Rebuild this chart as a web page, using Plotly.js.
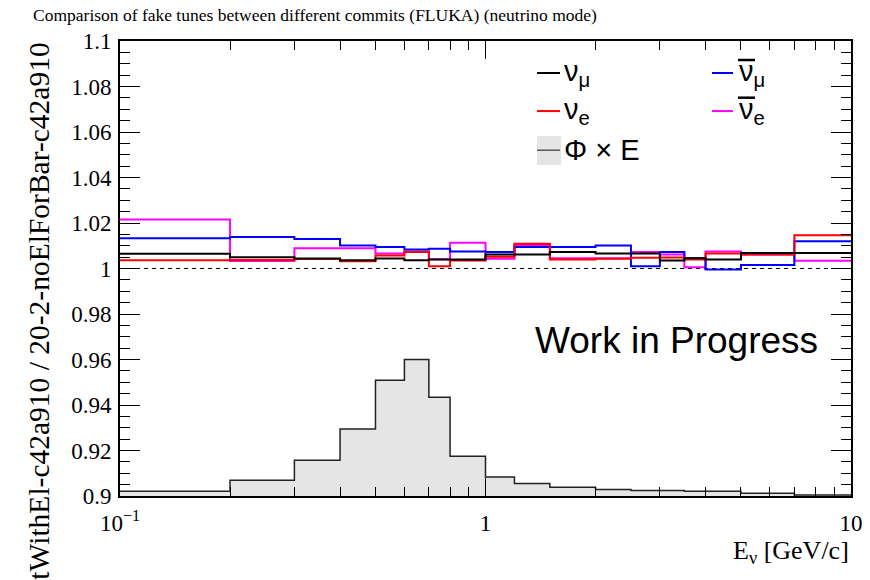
<!DOCTYPE html>
<html>
<head>
<meta charset="utf-8">
<script src="https://cdn.plot.ly/plotly-3.0.1.min.js"></script>
<style>html,body{margin:0;padding:0;background:#fff;}#chart{width:870px;height:580px;}</style>
</head>
<body>
<div id="chart"></div>
<script>
// Bin edges in E_nu [GeV/c]
const binEdges = [0.1,0.2,0.3,0.4,0.5,0.6,0.7,0.8,1.0,1.2,1.5,2.0,2.5,3.0,3.5,4.0,5.0,7.0,10.0];
// Ratio per bin
const numuRatio    = [1.0065,1.0050,1.0044,1.0036,1.0044,1.0036,1.0040,1.0040,1.0062,1.0062,1.0072,1.0066,1.0066,1.0035,1.0045,1.0040,1.0068,1.0068];
const nueRatio     = [1.0036,1.0037,1.0042,1.0032,1.0057,1.0073,1.0010,1.0035,1.0052,1.0109,1.0040,1.0043,1.0047,1.0048,1.0040,1.0066,1.0062,1.0146];
const numubarRatio = [1.0133,1.0139,1.0130,1.0101,1.0094,1.0084,1.0087,1.0075,1.0073,1.0094,1.0094,1.0101,1.0010,1.0073,1.0045,0.9996,1.0015,1.0120];
const nuebarRatio  = [1.0215,1.0033,1.0089,1.0089,1.0066,1.0075,1.0041,1.0113,1.0043,1.0103,1.0045,1.0045,1.0073,1.0062,1.0006,1.0075,1.0062,1.0034];
// Flux x E shape (drawn in the same y units)
const fluxShape    = [0.9021,0.9069,0.9157,0.9294,0.9509,0.9600,0.9434,0.9175,0.9083,0.9055,0.9039,0.9029,0.9024,0.9024,0.9021,0.9021,0.9012,0.9004];
const unityLine = 1.0;
const yMin = 0.9, yMax = 1.1;
const xTickVals = [0.1, 1, 10];
const xTickText = ['10<sup>\u22121</sup>', '1', '10'];
const xMinorVals = [0.2,0.3,0.4,0.5,0.6,0.7,0.8,0.9,2,3,4,5,6,7,8,9];

function stepY(vals){ return vals.concat([vals[vals.length-1]]); }

const serif = "'Liberation Serif', serif";
const sans = "'Liberation Sans', sans-serif";

const traces = [
  {x: binEdges, y: stepY(fluxShape), type:'scatter', mode:'lines', line:{shape:'hv', color:'#222222', width:1.5}, fill:'tozeroy', fillcolor:'#e5e5e5', hoverinfo:'skip', showlegend:false},
  {x: [binEdges[0], binEdges[binEdges.length-1]], y:[unityLine, unityLine], type:'scatter', mode:'lines', line:{color:'#000', width:1, dash:'4px,4px'}, showlegend:false},
  {x: binEdges, y: stepY(nuebarRatio), type:'scatter', mode:'lines', line:{shape:'hv', color:'#ff00ff', width:2}, showlegend:false},
  {x: binEdges, y: stepY(numubarRatio), type:'scatter', mode:'lines', line:{shape:'hv', color:'#0000ff', width:2}, showlegend:false},
  {x: binEdges, y: stepY(nueRatio), type:'scatter', mode:'lines', line:{shape:'hv', color:'#ff0000', width:2}, showlegend:false},
  {x: binEdges, y: stepY(numuRatio), type:'scatter', mode:'lines', line:{shape:'hv', color:'#000000', width:2}, showlegend:false}
];

// legend geometry helpers (paper coords)
const L = {x0:0.5705, x1:0.6019, bx0:0.8098, bx1:0.8386, tx:0.6047, btx:0.8440, r1:0.9297, r2:0.846, r3:0.760,
           ob0:0.8454, ob1:0.8687, o1:0.9582, o2:0.8754};

const shapes = [
  {type:'line', xref:'paper', yref:'paper', x0:L.x0, x1:L.x1, y0:L.r1, y1:L.r1, line:{color:'#000', width:2}},
  {type:'line', xref:'paper', yref:'paper', x0:L.bx0, x1:L.bx1, y0:L.r1, y1:L.r1, line:{color:'#0000ff', width:2}},
  {type:'line', xref:'paper', yref:'paper', x0:L.x0, x1:L.x1, y0:L.r2, y1:L.r2, line:{color:'#ff0000', width:2}},
  {type:'line', xref:'paper', yref:'paper', x0:L.bx0, x1:L.bx1, y0:L.r2, y1:L.r2, line:{color:'#ff00ff', width:2}},
  {type:'line', xref:'paper', yref:'paper', x0:L.ob0, x1:L.ob1, y0:L.o1, y1:L.o1, line:{color:'#000', width:2.5}},
  {type:'line', xref:'paper', yref:'paper', x0:L.ob0, x1:L.ob1, y0:L.o2, y1:L.o2, line:{color:'#000', width:2.5}},
  {type:'rect', xref:'paper', yref:'paper', x0:L.x0, x1:L.x1+0.0015, y0:0.7275, y1:0.7912, fillcolor:'#e5e5e5', line:{width:0}},
  {type:'line', xref:'paper', yref:'paper', x0:L.x0, x1:L.x1, y0:L.r3, y1:L.r3, line:{color:'#333', width:1.2}}
];

const annotations = [
  {xref:'paper', yref:'paper', x:L.tx, y:L.r1, xanchor:'left', yanchor:'middle', showarrow:false, text:'\u03bd<sub>\u03bc</sub>', font:{family:sans, size:29, color:'#000'}},
  {xref:'paper', yref:'paper', x:L.btx, y:L.r1, xanchor:'left', yanchor:'middle', showarrow:false, text:'\u03bd<sub>\u03bc</sub>', font:{family:sans, size:29, color:'#000'}},
  {xref:'paper', yref:'paper', x:L.tx, y:L.r2, xanchor:'left', yanchor:'middle', showarrow:false, text:'\u03bd<sub>e</sub>', font:{family:sans, size:29, color:'#000'}},
  {xref:'paper', yref:'paper', x:L.btx, y:L.r2, xanchor:'left', yanchor:'middle', showarrow:false, text:'\u03bd<sub>e</sub>', font:{family:sans, size:29, color:'#000'}},
  {xref:'paper', yref:'paper', x:L.tx, y:L.r3, xanchor:'left', yanchor:'middle', showarrow:false, text:'\u03a6 \u00d7 E', font:{family:sans, size:29, color:'#000'}},
  {xref:'paper', yref:'paper', x:0.565, y:0.3407, xanchor:'left', yanchor:'middle', showarrow:false, text:'Work in Progress', font:{family:sans, size:37, color:'#000'}},
  {xref:'paper', yref:'paper', x:1.0, y:-0.124, xanchor:'right', yanchor:'middle', showarrow:false, text:'E<sub>\u03bd</sub> [GeV/c]', font:{family:serif, size:26, color:'#000'}},
  {xref:'paper', yref:'paper', x:-0.112, y:1.0, xanchor:'center', yanchor:'top', textangle:-90, showarrow:false, text:'tWithEl-c42a910 / 20-2-noElForBar-c42a910', font:{family:serif, size:29.5, color:'#000'}}
];

const layout = {
  width:870, height:580,
  margin:{l:120, r:19, t:41, b:84},
  paper_bgcolor:'#fff', plot_bgcolor:'#fff',
  showlegend:false,
  title:{text:'Comparison of fake tunes between different commits (FLUKA) (neutrino mode)', xref:'container', yref:'container', x:33/870, xanchor:'left', y:1-15/580, yanchor:'middle', font:{family:serif, size:17.5, color:'#000'}},
  xaxis:{type:'log', range:[-1,1], tickmode:'array', tickvals:xTickVals, ticktext:xTickText,
    ticks:'inside', ticklen:18, tickwidth:1, tickcolor:'#000', showgrid:false, zeroline:false,
    showline:true, linecolor:'#000', linewidth:2, mirror:'ticks',
    minor:{tickmode:'array', tickvals:xMinorVals, ticks:'inside', ticklen:9, tickwidth:1, tickcolor:'#000', showgrid:false},
    tickfont:{family:serif, size:23, color:'#000'}, ticklabelstandoff:5},
  yaxis:{range:[yMin,yMax], tick0:0.9, dtick:0.02, ticks:'inside', ticklen:20, tickwidth:1, tickcolor:'#000',
    showgrid:false, zeroline:false, showline:true, linecolor:'#000', linewidth:2, mirror:'ticks',
    minor:{dtick:0.005, tick0:0.9, ticks:'inside', ticklen:10, tickwidth:1, tickcolor:'#000', showgrid:false},
    tickfont:{family:serif, size:23, color:'#000'}, ticklabelstandoff:2},
  shapes:shapes, annotations:annotations
};

Plotly.newPlot('chart', traces, layout, {displayModeBar:false, staticPlot:true});
</script>
</body>
</html>
